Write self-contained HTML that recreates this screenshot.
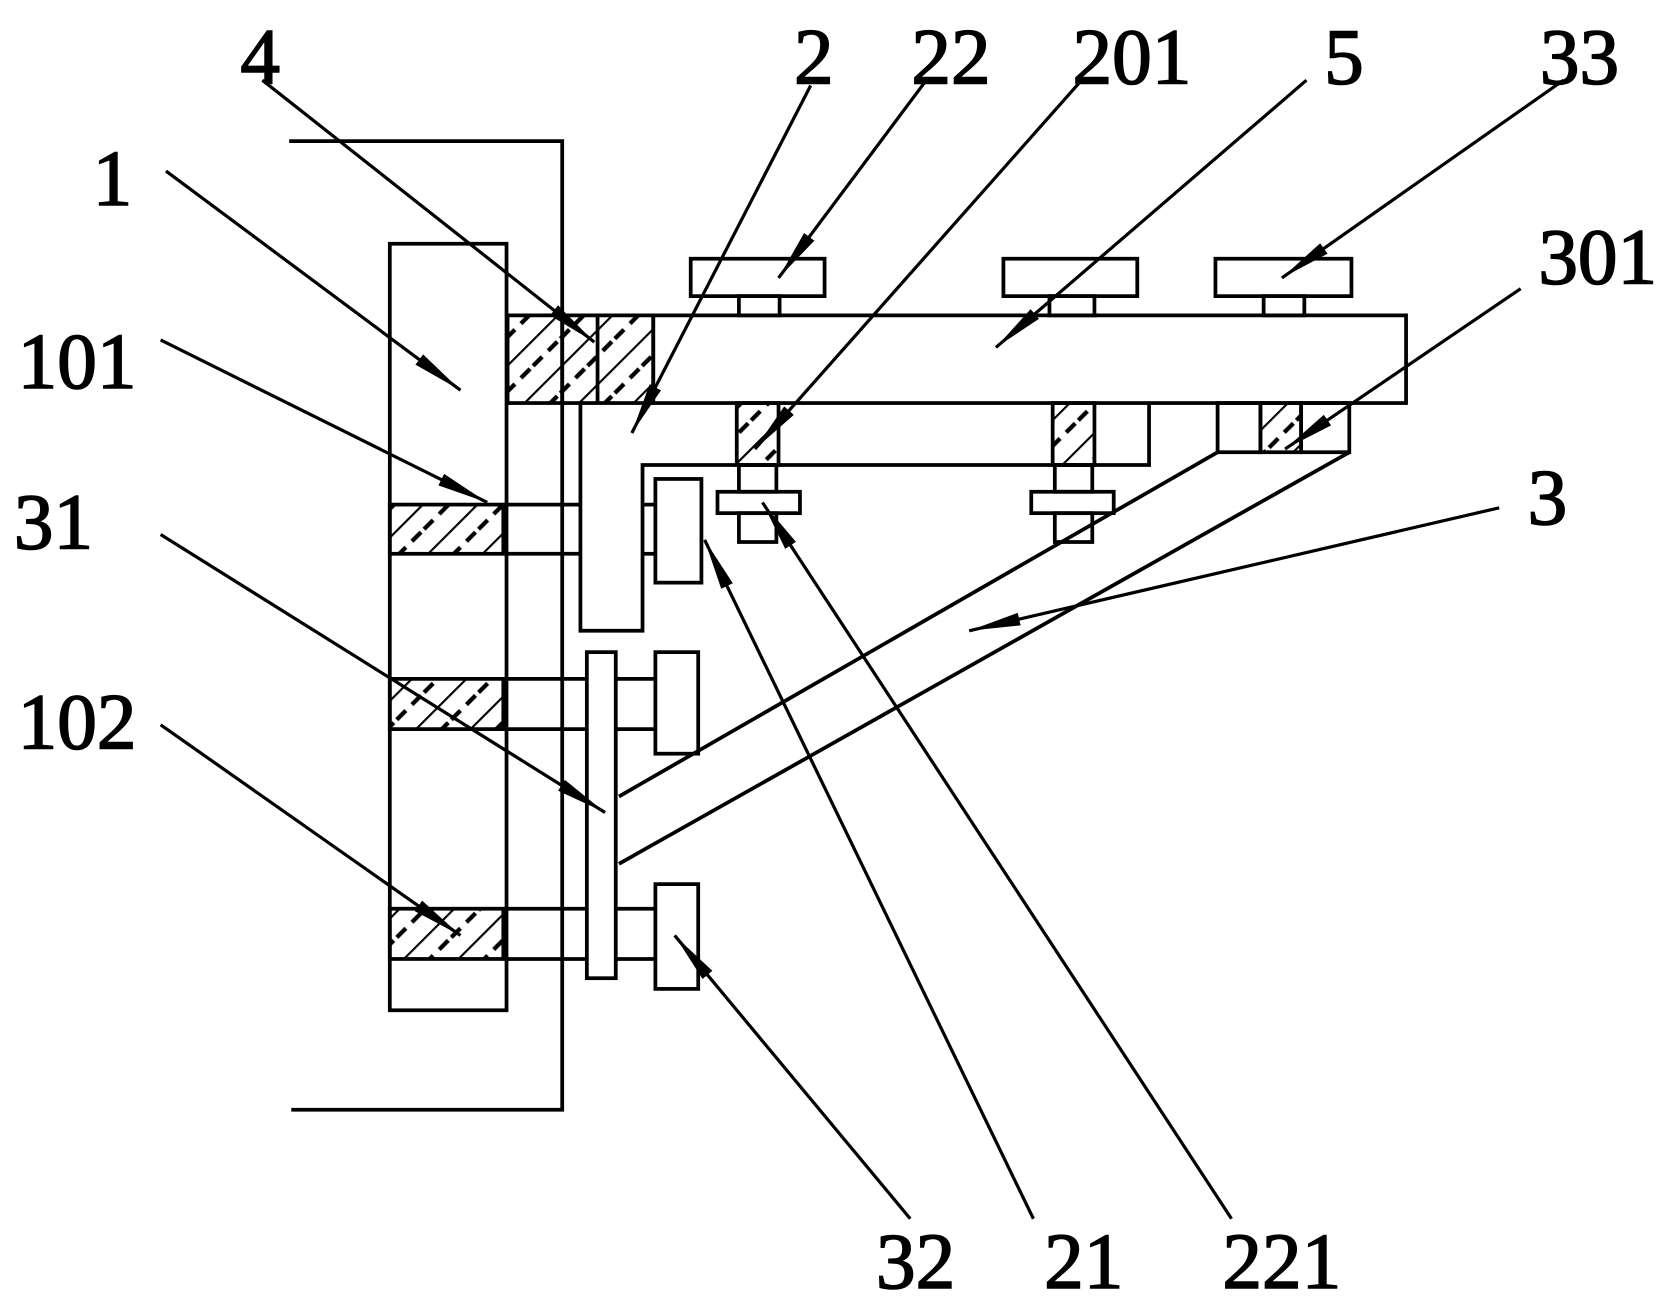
<!DOCTYPE html>
<html><head><style>html,body{margin:0;padding:0;background:#fff}svg{display:block}</style></head>
<body>
<svg width="1677" height="1300" viewBox="0 0 1566 1216" preserveAspectRatio="none" xmlns="http://www.w3.org/2000/svg">
<defs>
<pattern id="h" patternUnits="userSpaceOnUse" width="36" height="36" patternTransform="rotate(45)">
<line x1="0" y1="0" x2="0" y2="36" stroke="#000" stroke-width="4"/>
<line x1="18" y1="2" x2="18" y2="14" stroke="#000" stroke-width="4"/>
<line x1="18" y1="22" x2="18" y2="34" stroke="#000" stroke-width="4"/>
</pattern>
<marker id="a" markerWidth="50" markerHeight="16" refX="48" refY="8" orient="auto" markerUnits="userSpaceOnUse">
<path d="M0,2 L48,8 L0,14 Z" fill="#000"/>
</marker>
</defs>
<g fill="none" stroke="#000" stroke-width="3.5">
<polyline points="270,132 525,132 525,1038 272,1038"/>
<rect x="364" y="228" width="109" height="717" fill="#fff"/>
<rect x="474" y="295" width="136" height="82" fill="url(#h)"/>
<line x1="525" y1="295" x2="525" y2="377"/><line x1="558" y1="295" x2="558" y2="377"/>
<rect x="610" y="295" width="703" height="82"/>
<rect x="645" y="242" width="125" height="35"/><rect x="690" y="277" width="38" height="18"/>
<rect x="937" y="242" width="125" height="35"/><rect x="980" y="277" width="42" height="18"/>
<rect x="1135" y="242" width="127" height="35"/><rect x="1180" y="277" width="38" height="18"/>
<polyline points="542,377 542,590 600,590 600,435 1073,435 1073,377"/>
<rect x="688" y="377" width="39" height="58" fill="url(#h)"/>
<rect x="690" y="435" width="35" height="25"/><rect x="670" y="460" width="77" height="20"/><rect x="690" y="480" width="35" height="27"/>
<rect x="983" y="377" width="39" height="58" fill="url(#h)"/>
<rect x="985" y="435" width="35" height="25"/><rect x="963" y="460" width="77" height="20"/><rect x="985" y="480" width="35" height="27"/>
<rect x="1137" y="377" width="40" height="46"/>
<rect x="1177" y="377" width="38" height="46" fill="url(#h)"/>
<rect x="1215" y="377" width="45" height="46"/>
<line x1="1137" y1="423" x2="578" y2="745"/>
<line x1="1260" y1="423" x2="578" y2="808"/>
<rect x="364" y="472" width="106" height="46" fill="url(#h)"/>
<line x1="470" y1="472" x2="542" y2="472"/><line x1="470" y1="518" x2="542" y2="518"/>
<line x1="600" y1="472" x2="612" y2="472"/><line x1="600" y1="518" x2="612" y2="518"/>
<rect x="612" y="448" width="43" height="97"/>
<rect x="548" y="610" width="27" height="305"/>
<rect x="364" y="635" width="106" height="47" fill="url(#h)"/>
<line x1="470" y1="635" x2="548" y2="635"/><line x1="470" y1="682" x2="548" y2="682"/>
<line x1="575" y1="635" x2="612" y2="635"/><line x1="575" y1="682" x2="612" y2="682"/>
<rect x="612" y="610" width="40" height="95"/>
<rect x="364" y="850" width="106" height="47" fill="url(#h)"/>
<line x1="470" y1="850" x2="548" y2="850"/><line x1="470" y1="897" x2="548" y2="897"/>
<line x1="575" y1="850" x2="612" y2="850"/><line x1="575" y1="897" x2="612" y2="897"/>
<rect x="612" y="827" width="40" height="98"/>
</g>
<g stroke="#000" stroke-width="3" marker-end="url(#a)">
<line x1="245" y1="75" x2="555" y2="320"/>
<line x1="757" y1="80" x2="590" y2="405"/>
<line x1="865" y1="75" x2="727" y2="260"/>
<line x1="1010" y1="75" x2="705" y2="420"/>
<line x1="1220" y1="75" x2="930" y2="325"/>
<line x1="1460" y1="75" x2="1197" y2="260"/>
<line x1="155" y1="160" x2="430" y2="365"/>
<line x1="1420" y1="270" x2="1200" y2="420"/>
<line x1="150" y1="318" x2="455" y2="470"/>
<line x1="150" y1="500" x2="565" y2="760"/>
<line x1="1400" y1="475" x2="905" y2="590"/>
<line x1="150" y1="678" x2="430" y2="875"/>
<line x1="850" y1="1140" x2="630" y2="875"/>
<line x1="965" y1="1140" x2="658" y2="505"/>
<line x1="1150" y1="1140" x2="712" y2="470"/>
</g>
<g font-family="Liberation Serif, serif" font-size="74" text-anchor="middle" fill="#000" stroke="#000" stroke-width="1.5">
<text x="243" y="78">4</text><text x="760" y="78">2</text><text x="888" y="78">22</text>
<text x="1057" y="78">201</text><text x="1255" y="78">5</text><text x="1475" y="78">33</text>
<text x="105" y="192">1</text><text x="1492" y="265">301</text><text x="72" y="363">101</text>
<text x="50" y="513">31</text><text x="1445" y="490">3</text><text x="72" y="700">102</text>
<text x="855" y="1205">32</text><text x="1012" y="1205">21</text><text x="1197" y="1205">221</text>
</g>
</svg>
</body></html>
